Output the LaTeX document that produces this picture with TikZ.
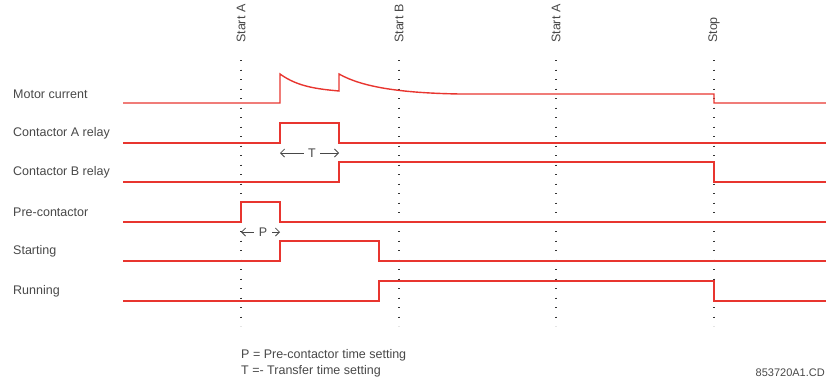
\documentclass[tikz,border=0pt]{standalone}
\usepackage{fontspec}
\setmainfont{Liberation Sans}
\usepackage{xcolor}
\usetikzlibrary{arrows.meta, positioning}
\definecolor{sigred}{HTML}{E8352F}
\definecolor{txtgray}{HTML}{484848}

\begin{document}
\begin{tikzpicture}[
    x=1pt, y=-1pt,
    signal/.style={
        draw=sigred,
        line width=1.4pt
    },
    marker/.style={
        draw=black!80,
        line width=1.3pt,
        dash pattern=on 1.2pt off 8.3pt
    },
    lbl/.style={
        text=txtgray,
        font=\fontsize{12.5}{14}\selectfont,
        inner sep=0pt
    },
    event/.style={
        lbl,
        rotate=90,
        anchor=west
    },
    span/.style={
        -{Straight Barb[length=4pt,width=8pt]},
        draw=txtgray,
        line width=0.8pt
    }
]
\useasboundingbox (0,0) rectangle (826,381);

% event markers
\foreach \x/\name/\txt in {241/sa/Start A, 399/sb/Start B, 556/sc/Start A, 714/st/Stop} {
    \node[event] (\name) at (\x,43) {\txt};
    \coordinate (\name top) at (\x,60);
    \coordinate (\name bot) at (\x,326);
    \draw[marker] (\name top) -- (\name bot);
}

% signal names
\node[lbl, anchor=west] (motor) at (13,94) {Motor current};
\node[lbl, anchor=west] (cona)  at (13,133) {Contactor A relay};
\node[lbl, anchor=west] (conb)  at (13,172) {Contactor B relay};
\node[lbl, anchor=west] (pre)   at (13,212) {Pre-contactor};
\node[lbl, anchor=west] (start) at (13,251) {Starting};
\node[lbl, anchor=west] (run)   at (13,291) {Running};

% waveforms
\draw[signal] (123,103) -- (280,103) -- (280,74)
    .. controls (298,87) and (318,89) .. (339,91) -- (339,74)
    .. controls (362,87) and (400,93) .. (460,94) -- (714,94)
    -- (714,103) -- (826,103);
\draw[signal] (123,143) -- (280,143) -- (280,123) -- (339,123)
    -- (339,143) -- (826,143);
\draw[signal] (123,182) -- (339,182) -- (339,162) -- (714,162)
    -- (714,182) -- (826,182);
\draw[signal] (123,222) -- (241,222) -- (241,202) -- (280,202)
    -- (280,222) -- (826,222);
\draw[signal] (123,261) -- (280,261) -- (280,241) -- (379,241)
    -- (379,261) -- (826,261);
\draw[signal] (123,301) -- (379,301) -- (379,281) -- (714,281)
    -- (714,301) -- (826,301);

% time spans
\node[lbl] (tlab) at (312,153) {T};
\coordinate (tl) at (280,153);
\coordinate (tr) at (339,153);
\draw[span] (tlab.west) ++(-4,0) -- (tl);
\draw[span] (tlab.east) ++(4,0) -- (tr);

\node[lbl] (plab) at (263,232) {P};
\coordinate (pl) at (241,232);
\coordinate (pr) at (280,232);
\draw[span] (plab.west) ++(-5,0) -- (pl);
\draw[span] (plab.east) ++(5,0) -- (pr);

% legend
\node[lbl, anchor=west] (pkey) at (241,355) {P = Pre-contactor time setting};
\node[lbl, below=4pt of pkey.south west, anchor=north west] (tkey)
    {T =- Transfer time setting};
\node[lbl, anchor=east, font=\fontsize{11}{13}\selectfont] (code) at (825,373) {853720A1.CD};

\end{tikzpicture}
\end{document}
